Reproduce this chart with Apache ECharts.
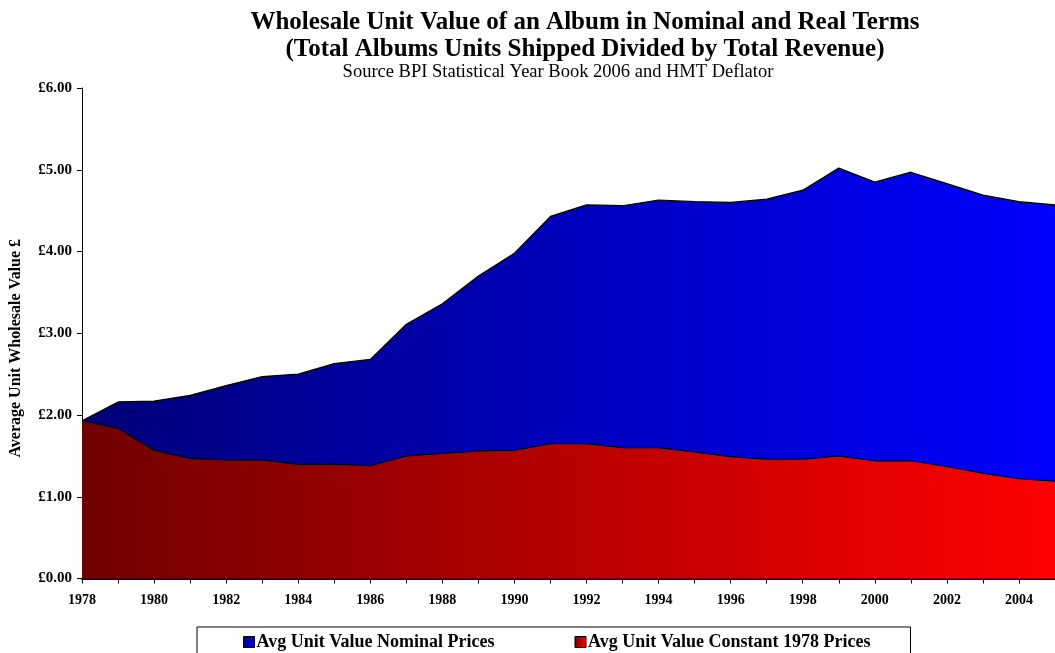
<!DOCTYPE html>
<html>
<head>
<meta charset="utf-8">
<script src="https://cdn.jsdelivr.net/npm/echarts@6/dist/echarts.min.js"></script>
<style>
  html, body { margin: 0; padding: 0; background: #fff; }
  #chart { width: 1055px; height: 653px; }
</style>
</head>
<body>
<div id="chart"></div>
<script>
// Album wholesale unit value, £ per album (BPI Statistical Year Book 2006, HMT deflator)
const years = ['1978','1979','1980','1981','1982','1983','1984','1985','1986','1987',
               '1988','1989','1990','1991','1992','1993','1994','1995','1996','1997',
               '1998','1999','2000','2001','2002','2003','2004','2005'];
const nominalPrices = [1.93, 2.16, 2.17, 2.24, 2.36, 2.47, 2.50, 2.63, 2.68, 3.11,
                       3.36, 3.70, 3.98, 4.43, 4.57, 4.56, 4.63, 4.61, 4.60, 4.64,
                       4.75, 5.02, 4.85, 4.97, 4.83, 4.69, 4.61, 4.57];
const constant1978Prices = [1.93, 1.84, 1.57, 1.47, 1.45, 1.45, 1.40, 1.40, 1.38, 1.50,
                            1.53, 1.56, 1.57, 1.65, 1.65, 1.60, 1.60, 1.55, 1.49, 1.46,
                            1.46, 1.50, 1.44, 1.44, 1.37, 1.29, 1.22, 1.19];
const seriesNames = ['Avg Unit Value Nominal Prices', 'Avg Unit Value Constant 1978 Prices'];
const yTickValues = { min: 0, max: 6, interval: 1 };

const FONT = '"Liberation Serif", "DejaVu Serif", serif';

function hGradient(from, to) {
  return new echarts.graphic.LinearGradient(0, 0, 1, 0, [
    { offset: 0, color: from },
    { offset: 1, color: to }
  ]);
}
const blueFill = () => hGradient('#000078', '#0000ff');
const redFill = () => hGradient('#700000', '#ff0000');

const chart = echarts.init(document.getElementById('chart'), null, { renderer: 'canvas' });

chart.setOption({
  backgroundColor: '#ffffff',
  animation: false,
  title: [
    {
      text: 'Wholesale Unit Value of an Album in Nominal and Real Terms\n(Total Albums Units Shipped Divided by Total Revenue)',
      left: 580, top: 4, textAlign: 'center',
      textStyle: { fontFamily: FONT, fontSize: 25, fontWeight: 'bold', color: '#000', lineHeight: 27 }
    },
    {
      text: 'Source BPI Statistical Year Book 2006 and HMT Deflator',
      left: 553, top: 58, textAlign: 'center',
      textStyle: { fontFamily: FONT, fontSize: 18.5, fontWeight: 'normal', color: '#000' }
    }
  ],
  legend: {
    left: 197, top: 627,
    padding: [6, 40, 12, 46],
    itemGap: 80,
    itemWidth: 11, itemHeight: 11,
    icon: 'rect',
    borderColor: '#000', borderWidth: 1,
    backgroundColor: '#fff',
    textStyle: { fontFamily: FONT, fontSize: 18, fontWeight: 'bold', color: '#000', padding: [0, 0, 0, -3] },
    data: [
      { name: seriesNames[0], itemStyle: { color: blueFill(), borderColor: '#000', borderWidth: 1 } },
      { name: seriesNames[1], itemStyle: { color: redFill(), borderColor: '#000', borderWidth: 1 } }
    ]
  },
  grid: { left: 80, right: -6, top: 88, bottom: 74.5, containLabel: false },
  xAxis: {
    type: 'category',
    data: years,
    boundaryGap: false,
    axisLine: { show: true, lineStyle: { color: '#000', width: 2 } },
    axisTick: { show: true, interval: 0, length: 5, lineStyle: { color: '#000', width: 1 } },
    axisLabel: {
      interval: 1, margin: 15,
      fontFamily: FONT, fontSize: 14, fontWeight: 'bold', color: '#000'
    },
    splitLine: { show: false }
  },
  yAxis: {
    type: 'value',
    min: yTickValues.min, max: yTickValues.max, interval: yTickValues.interval,
    name: 'Average Unit Wholesale Value £',
    nameLocation: 'middle', nameRotate: 90, nameGap: 58,
    nameTextStyle: { fontFamily: FONT, fontSize: 16, fontWeight: 'bold', color: '#000', padding: [0, 30, 0, 0] },
    axisLine: { show: true, lineStyle: { color: '#000', width: 1 } },
    axisTick: { show: true, length: 5, lineStyle: { color: '#000', width: 1 } },
    axisLabel: {
      margin: 10,
      fontFamily: FONT, fontSize: 15, fontWeight: 'bold', color: '#000',
      formatter: v => '£' + v.toFixed(2)
    },
    splitLine: { show: false }
  },
  series: [
    {
      name: seriesNames[0],
      type: 'line',
      data: nominalPrices,
      symbol: 'none',
      z: 2,
      lineStyle: { color: '#000', width: 1.2 },
      itemStyle: { color: '#0000ff' },
      areaStyle: { color: blueFill(), opacity: 1 }
    },
    {
      name: seriesNames[1],
      type: 'line',
      data: constant1978Prices,
      symbol: 'none',
      z: 3,
      lineStyle: { color: '#000', width: 1.2 },
      itemStyle: { color: '#ff0000' },
      areaStyle: { color: redFill(), opacity: 1 }
    }
  ]
});
</script>
</body>
</html>
